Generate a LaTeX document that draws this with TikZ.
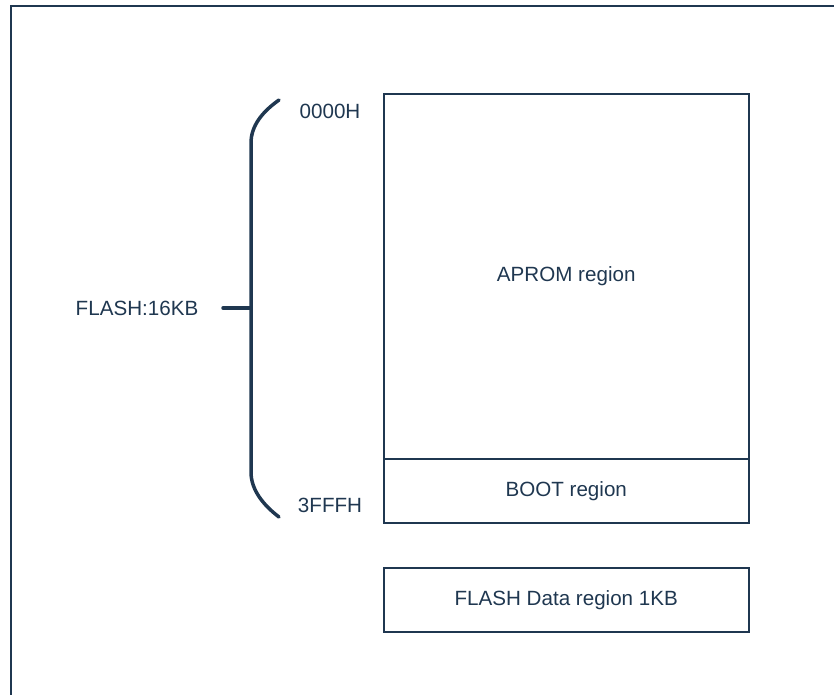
\documentclass[tikz,border=0pt]{standalone}
\usepackage{fontspec}
\setmainfont{Liberation Sans}
\definecolor{navy}{RGB}{31,55,80}
\begin{document}
\begin{tikzpicture}[x=1pt,y=-1pt,
  region/.style={draw=navy,line width=1.5pt,inner sep=0pt,anchor=north west,
    text=navy,font=\fontsize{20.6}{24}\selectfont},
  lbl/.style={text=navy,font=\fontsize{20.6}{24}\selectfont,inner sep=0pt},
  brace/.style={draw=navy,line width=3.5pt,line cap=round}]
\useasboundingbox (0,0) rectangle (834,694);
\draw[navy,line width=2pt] (11,700) -- (11,6) -- (840,6);
\node[region,minimum width=365pt,minimum height=365pt] (aprom) at (383,93) {APROM region};
\node[region,minimum width=365pt,minimum height=64pt] (boot) at (383,458) {BOOT region};
\node[region,minimum width=365pt,minimum height=64pt] (data) at (383,567) {FLASH Data region 1KB};
\coordinate (btop) at (279,100);
\coordinate (bbot) at (279,517);
\coordinate (bmid) at (251,308);
\coordinate (tick) at (223,308);
\draw[brace] (btop) .. controls (262,112) and (251,126) .. (251,143) -- (251,472)
  .. controls (251,489) and (262,504) .. (bbot);
\draw[brace] (tick) -- (bmid);
\node[lbl] (start) at (330,111) {0000H};
\node[lbl] (end) at (330,505) {3FFFH};
\node[lbl] (size) at (137,308) {FLASH:16KB};
\end{tikzpicture}
\end{document}
